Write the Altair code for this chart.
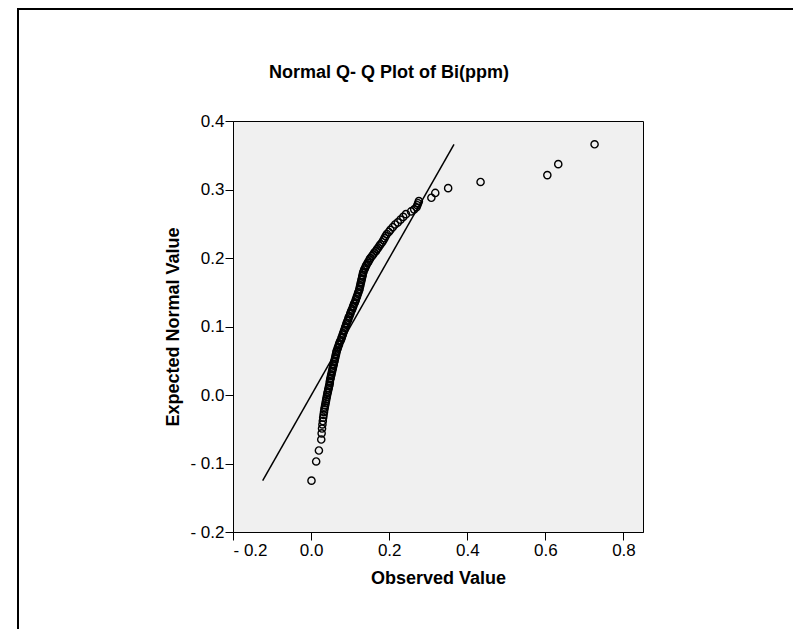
import altair as alt
import pandas as pd

observed = [
    0.001, 0.013, 0.020, 0.026, 0.027, 0.028, 0.029, 0.030, 0.031, 0.032,
    0.033, 0.034, 0.035, 0.036, 0.037, 0.038, 0.039, 0.040, 0.041,
    0.042, 0.043, 0.044, 0.045, 0.046, 0.047, 0.048, 0.048, 0.049, 0.050,
    0.051, 0.052, 0.053, 0.054, 0.055, 0.056, 0.057, 0.058, 0.059, 0.060,
    0.061, 0.062, 0.063, 0.064, 0.065, 0.066, 0.068, 0.069, 0.071, 0.072,
    0.074, 0.076, 0.078, 0.079, 0.081, 0.082, 0.084, 0.085, 0.087, 0.088,
    0.090, 0.091, 0.093, 0.095, 0.096, 0.098, 0.100, 0.101, 0.103, 0.105,
    0.107, 0.108, 0.110, 0.112, 0.114, 0.115, 0.117, 0.118, 0.120, 0.121,
    0.123, 0.124, 0.125, 0.126, 0.127, 0.128, 0.129, 0.130, 0.131, 0.132,
    0.133, 0.134, 0.136, 0.138, 0.140, 0.142, 0.145, 0.147, 0.150, 0.152,
    0.156, 0.159, 0.162, 0.166, 0.169, 0.172, 0.175, 0.178,
    0.182, 0.185, 0.188, 0.191, 0.194, 0.199, 0.203, 0.209, 0.215, 0.222,
    0.229, 0.236, 0.243, 0.256, 0.264, 0.270, 0.272, 0.274, 0.276,
    0.308, 0.318, 0.351, 0.434, 0.605, 0.633, 0.726,
]
expected = [
    -0.125, -0.097, -0.081, -0.065, -0.056, -0.049, -0.043, -0.038, -0.033, -0.029,
    -0.025, -0.021, -0.018, -0.015, -0.012, -0.009, -0.006, -0.003, 0.000,
    0.003, 0.005, 0.008, 0.010, 0.013, 0.015, 0.018, 0.020, 0.023, 0.025,
    0.028, 0.030, 0.033, 0.035, 0.038, 0.040, 0.043, 0.045, 0.048, 0.050,
    0.053, 0.055, 0.058, 0.060, 0.063, 0.065, 0.068, 0.070, 0.073, 0.075,
    0.078, 0.080, 0.083, 0.085, 0.088, 0.090, 0.093, 0.095, 0.098, 0.100,
    0.103, 0.105, 0.108, 0.110, 0.113, 0.115, 0.118, 0.120, 0.123, 0.125,
    0.128, 0.130, 0.133, 0.135, 0.138, 0.140, 0.143, 0.145, 0.148, 0.150,
    0.153, 0.155, 0.158, 0.160, 0.163, 0.165, 0.168, 0.170, 0.173, 0.175,
    0.178, 0.180, 0.183, 0.185, 0.188, 0.190, 0.193, 0.195, 0.198, 0.200,
    0.203, 0.205, 0.208, 0.210, 0.213, 0.215, 0.218, 0.220,
    0.223, 0.226, 0.229, 0.232, 0.235, 0.238, 0.241, 0.245, 0.249, 0.252,
    0.256, 0.260, 0.264, 0.268, 0.271, 0.274, 0.277, 0.280, 0.283,
    0.288, 0.295, 0.302, 0.311, 0.321, 0.337, 0.366,
]

# Reference line (expected = observed) endpoints
line_x = [-0.124, 0.366]
line_y = [-0.125, 0.366]

x_ticks = [-0.2, 0.0, 0.2, 0.4, 0.6, 0.8]
y_ticks = [-0.2, -0.1, 0.0, 0.1, 0.2, 0.3, 0.4]

title_text = ["Normal Q- Q Plot of Bi(ppm)"]

pts = pd.DataFrame({"obs": observed, "exp": expected})
ref = pd.DataFrame({"obs": line_x, "exp": line_y})

FONT = "Liberation Sans"
label_expr = "datum.value < 0 ? '- ' + format(abs(datum.value), '.1f') : format(datum.value, '.1f')"

x_scale = alt.Scale(domain=[-0.2, 0.85], nice=False, zero=False)
y_scale = alt.Scale(domain=[-0.2, 0.4], nice=False, zero=False)

x_axis = alt.Axis(
    title="Observed Value", values=x_ticks, labelExpr=label_expr, grid=False,
    tickSize=8, tickColor="black", domainColor="black", labelColor="black",
    labelFont=FONT, labelFontSize=17, labelPadding=2,
    titleFont=FONT, titleFontSize=18, titleFontWeight="bold", titleColor="black",
    titlePadding=11,
)
y_axis = alt.Axis(
    title="Expected Normal Value", values=y_ticks, labelExpr=label_expr, grid=False,
    tickSize=8, tickColor="black", domainColor="black", labelColor="black",
    labelFont=FONT, labelFontSize=17, labelPadding=1,
    titleFont=FONT, titleFontSize=18, titleFontWeight="bold", titleColor="black",
    titlePadding=7,
)

points = alt.Chart(pts).mark_point(
    shape="circle", filled=False, color="black", size=52, strokeWidth=1.4, opacity=1
).encode(
    x=alt.X("obs:Q", scale=x_scale, axis=x_axis),
    y=alt.Y("exp:Q", scale=y_scale, axis=y_axis),
)

line = alt.Chart(ref).mark_line(color="black", strokeWidth=1.5).encode(
    x=alt.X("obs:Q", scale=x_scale),
    y=alt.Y("exp:Q", scale=y_scale),
)

# Chart title drawn as a text mark above the plot area
title = alt.Chart(pd.DataFrame({"t": title_text})).mark_text(
    font=FONT, fontSize=18, fontWeight="bold", color="black",
    align="center", baseline="alphabetic", clip=False,
).encode(text="t:N", x=alt.value(156), y=alt.value(-43))

# Outer frame lines (decoration around the whole figure)
frame_left = alt.Chart(pd.DataFrame({"k": [0]})).mark_rule(
    color="black", strokeWidth=2, clip=False
).encode(x=alt.value(-215), y=alt.value(-113), y2=alt.value(520))
frame_top = alt.Chart(pd.DataFrame({"k": [0]})).mark_rule(
    color="black", strokeWidth=2, clip=False
).encode(x=alt.value(-215), x2=alt.value(560), y=alt.value(-112))

chart = alt.layer(points, line, title, frame_left, frame_top).properties(
    width=410,
    height=411,
    autosize=alt.AutoSizeParams(type="none"),
    padding={"left": 225, "top": 113, "right": 150, "bottom": 97},
    background="white",
).configure_view(
    fill="#f0f0f0", stroke="black", strokeWidth=1
)

chart.save("out.html", embed_options={"renderer": "svg", "actions": False})
